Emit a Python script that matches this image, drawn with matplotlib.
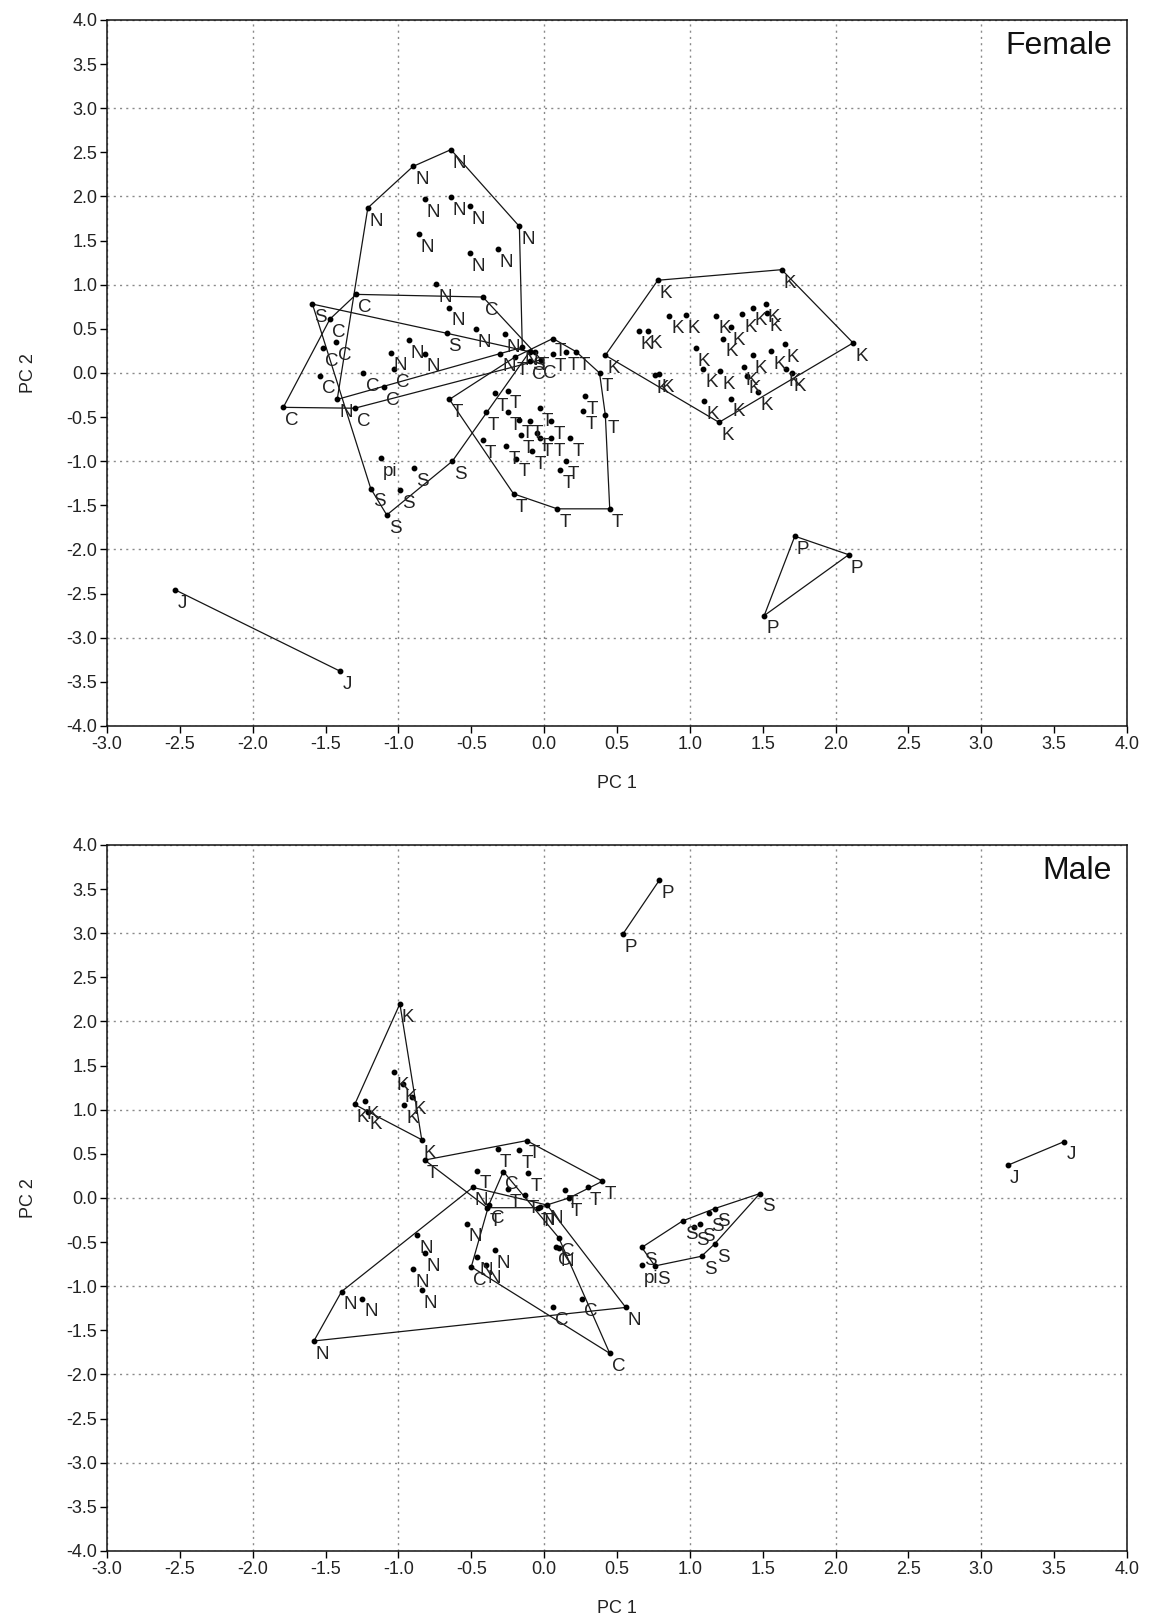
import numpy as np
import matplotlib
matplotlib.use('Agg')
import matplotlib.pyplot as plt
from matplotlib.ticker import MultipleLocator, FormatStrFormatter

plt.rcParams['font.family'] = ['Liberation Sans', 'DejaVu Sans']
plt.rcParams['axes.unicode_minus'] = False

# ---- Female scores (PC1, PC2) per group ----
f_J_x = [-2.53, -1.40]
f_J_y = [-2.46, -3.38]

f_P_x = [1.72, 2.09, 1.51]
f_P_y = [-1.85, -2.06, -2.75]

f_K_x = [0.78, 1.63, 2.12, 1.20, 0.42, 0.65, 0.71, 0.86, 0.97, 1.18, 1.23, 1.28, 1.36, 1.43,
         1.52, 1.53, 1.04, 1.09, 1.21, 1.37, 1.43, 1.56, 1.65, 1.66, 1.39, 0.76, 0.79, 1.10,
         1.28, 1.47, 1.70]
f_K_y = [1.05, 1.17, 0.34, -0.56, 0.20, 0.47, 0.48, 0.65, 0.66, 0.65, 0.39, 0.52, 0.67, 0.74,
         0.78, 0.68, 0.28, 0.04, 0.02, 0.07, 0.20, 0.25, 0.33, 0.05, -0.03, -0.02, -0.01, -0.32,
         -0.29, -0.22, 0.00]

f_T_x = [0.06, 0.38, 0.42, 0.45, 0.09, -0.21, -0.65, -0.20, -0.25, -0.34, -0.40, -0.25, -0.17,
         -0.10, -0.03, 0.05, -0.16, -0.05, -0.03, 0.05, 0.18, -0.42, -0.26, -0.19, -0.08, 0.15,
         0.11, 0.28, 0.27, 0.06, 0.15, -0.06, 0.22]
f_T_y = [0.39, 0.00, -0.48, -1.54, -1.54, -1.37, -0.30, 0.18, -0.20, -0.23, -0.44, -0.44, -0.53,
         -0.54, -0.40, -0.55, -0.70, -0.68, -0.74, -0.74, -0.74, -0.76, -0.83, -0.97, -0.89, -1.00,
         -1.10, -0.26, -0.43, 0.22, 0.24, 0.24, 0.24]

f_C_x = [-1.29, -0.42, -0.10, -1.30, -1.79, -1.47, -1.43, -1.52, -1.54, -1.24, -1.10, -1.03, -0.02]
f_C_y = [0.89, 0.86, 0.13, -0.40, -0.39, 0.61, 0.35, 0.28, -0.03, 0.00, -0.16, 0.04, 0.15]

f_N_x = [-1.21, -0.90, -0.64, -0.17, -0.15, -1.42, -0.82, -0.64, -0.51, -0.86, -0.51, -0.32,
         -0.74, -0.65, -0.47, -0.27, -0.93, -1.05, -0.82, -0.30]
f_N_y = [1.87, 2.34, 2.53, 1.66, 0.29, -0.30, 1.97, 1.99, 1.89, 1.57, 1.36, 1.40,
         1.01, 0.74, 0.50, 0.44, 0.37, 0.23, 0.22, 0.22]

f_S_x = [-1.59, -0.10, -0.63, -1.08, -1.19, -0.67, -0.89, -0.99]
f_S_y = [0.78, 0.24, -1.00, -1.61, -1.31, 0.45, -1.08, -1.33]

f_pi_x = [-1.12]
f_pi_y = [-0.96]

# ---- Male scores ----
m_P_x = [0.79, 0.54]
m_P_y = [3.60, 2.99]

m_J_x = [3.18, 3.57]
m_J_y = [0.37, 0.64]

m_K_x = [-0.99, -1.30, -0.84, -1.03, -0.97, -0.96, -1.23, -1.21, -0.91]
m_K_y = [2.20, 1.06, 0.66, 1.43, 1.29, 1.05, 1.10, 0.98, 1.15]

m_T_x = [-0.82, -0.12, 0.40, 0.17, -0.04, -0.39, -0.32, -0.17, -0.46, -0.11, 0.14, -0.13,
         -0.25, 0.30]
m_T_y = [0.43, 0.65, 0.19, 0.00, -0.11, -0.11, 0.55, 0.54, 0.31, 0.28, 0.09, 0.03,
         0.10, 0.12]

m_C_x = [-0.50, -0.38, -0.28, 0.10, 0.45, 0.06, 0.26, 0.08]
m_C_y = [-0.78, -0.08, 0.30, -0.45, -1.76, -1.24, -1.14, -0.56]

m_N_x = [-1.58, -1.39, -0.49, -0.03, 0.56, -1.25, -0.87, -0.82, -0.90, -0.84, -0.53, -0.46,
         -0.34, -0.40, 0.10, 0.02]
m_N_y = [-1.62, -1.06, 0.12, -0.10, -1.24, -1.14, -0.42, -0.62, -0.81, -1.04, -0.29, -0.67,
         -0.59, -0.76, -0.57, -0.08]

m_S_x = [1.48, 1.17, 1.13, 0.95, 0.67, 0.76, 1.08, 1.17, 1.07, 1.03]
m_S_y = [0.05, -0.12, -0.17, -0.26, -0.56, -0.77, -0.66, -0.52, -0.29, -0.33]

m_pi_x = [0.67]
m_pi_y = [-0.76]

female = [('J', f_J_x, f_J_y), ('P', f_P_x, f_P_y), ('K', f_K_x, f_K_y),
          ('T', f_T_x, f_T_y), ('C', f_C_x, f_C_y), ('N', f_N_x, f_N_y),
          ('S', f_S_x, f_S_y), ('pi', f_pi_x, f_pi_y)]
male = [('P', m_P_x, m_P_y), ('J', m_J_x, m_J_y), ('K', m_K_x, m_K_y),
        ('T', m_T_x, m_T_y), ('C', m_C_x, m_C_y), ('N', m_N_x, m_N_y),
        ('S', m_S_x, m_S_y), ('pi', m_pi_x, m_pi_y)]


def convex_hull(xs, ys):
    # monotone chain, returns closed polygon
    pts = sorted(set(zip(xs, ys)))
    if len(pts) <= 2:
        return pts

    def cross(o, a, b):
        return (a[0] - o[0]) * (b[1] - o[1]) - (a[1] - o[1]) * (b[0] - o[0])

    lower, upper = [], []
    for p in pts:
        while len(lower) >= 2 and cross(lower[-2], lower[-1], p) <= 0:
            lower.pop()
        lower.append(p)
    for p in reversed(pts):
        while len(upper) >= 2 and cross(upper[-2], upper[-1], p) <= 0:
            upper.pop()
        upper.append(p)
    hull = lower[:-1] + upper[:-1]
    return hull + [hull[0]]


def draw_panel(ax, groups, title):
    for name, xs, ys in groups:
        if len(xs) > 1:
            hull = convex_hull(xs, ys)
            hx, hy = zip(*hull)
            ax.plot(hx, hy, color='#151515', lw=0.9, zorder=2)
        ax.plot(xs, ys, 'o', color='black', ms=3.2, zorder=3)
        for x, y in zip(xs, ys):
            ax.annotate(name, (x, y), xytext=(1.5, -3.5), textcoords='offset points',
                        ha='left', va='top', fontsize=13.5, color='#222222', zorder=4)

    ax.set_xlim(-3.0, 4.0)
    ax.set_ylim(-4.0, 4.0)
    # labelled ticks every 0.5, dotted grid every 1.0
    ax.xaxis.remove_overlapping_locs = False
    ax.yaxis.remove_overlapping_locs = False
    ax.xaxis.set_major_locator(MultipleLocator(0.5))
    ax.yaxis.set_major_locator(MultipleLocator(0.5))
    ax.xaxis.set_minor_locator(MultipleLocator(1.0))
    ax.yaxis.set_minor_locator(MultipleLocator(1.0))
    ax.xaxis.set_major_formatter(FormatStrFormatter('%.1f'))
    ax.yaxis.set_major_formatter(FormatStrFormatter('%.1f'))
    ax.grid(False, which='major')
    ax.grid(True, which='minor', color='#8a8a8a', linestyle=(0, (1.5, 3.0)), linewidth=1.0)
    ax.set_axisbelow(True)
    ax.tick_params(which='major', direction='out', length=5, width=1.0,
                   labelsize=13, labelcolor='#222222', pad=2)
    ax.tick_params(which='minor', length=0)
    for s in ax.spines.values():
        s.set_linewidth(1.1)
        s.set_color('#111111')
    ax.set_xlabel('PC 1', fontsize=13, color='#222222', labelpad=16)
    ax.set_ylabel('PC 2', fontsize=13, color='#222222', labelpad=21)
    ax.text(0.985, 0.963, title, transform=ax.transAxes, ha='right', va='center',
            fontsize=23, color='#111111')


fig = plt.figure(figsize=(11.49, 16.20), dpi=100)
ax1 = fig.add_axes([0.0931, 0.5519, 0.8878, 0.4358])
ax2 = fig.add_axes([0.0931, 0.0426, 0.8878, 0.4358])

draw_panel(ax1, female, 'Female')
draw_panel(ax2, male, 'Male')

fig.savefig('out.png', dpi=100)
